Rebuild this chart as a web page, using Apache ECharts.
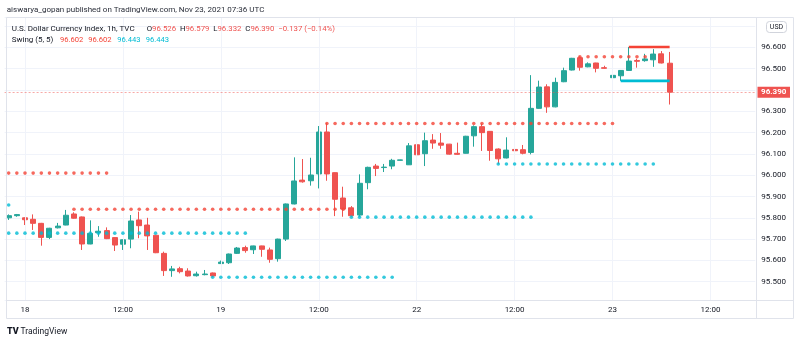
<!DOCTYPE html>
<html><head><meta charset="utf-8">
<script src="https://cdn.jsdelivr.net/npm/echarts@6/dist/echarts.min.js"></script>
<style>html,body{margin:0;padding:0;background:#fff;}#c{width:800px;height:343px;}</style>
</head><body><div id="c"></div>
<script>
// trading sessions (day, first hour, last hour) in UTC, hourly bars
const sessions = [['17',22,23],['18',0,23],['19',0,21],['21',22,23],['22',0,23],['23',0,17]];
const tickLabels = {'18 00:00':'18','18 12:00':'12:00','19 00:00':'19','19 12:00':'12:00','22 00:00':'22','22 12:00':'12:00','23 00:00':'23','23 12:00':'12:00'};

// OHLC from 17 22:00 to 23 07:00
const opens  = [95.800,95.810,95.800,95.793,95.774,95.708,95.753,95.766,95.818,95.804,95.677,95.730,95.740,95.707,95.676,95.700,95.790,95.766,95.718,95.633,95.552,95.561,95.550,95.528,95.533,95.541,
95.585,95.589,95.633,95.660,95.650,95.668,95.649,95.608,95.700,95.865,95.977,95.974,96.006,96.203,96.012,95.893,95.847,95.813,95.965,96.043,96.036,96.043,96.070,96.049,
96.143,96.101,96.165,96.151,96.146,96.103,96.103,96.185,96.228,96.206,96.123,96.081,96.121,96.120,96.107,96.314,96.415,96.321,96.439,96.494,96.552,96.509,96.527,96.505,
96.458,96.467,96.492,96.539,96.538,96.542,96.570,96.526];
const closes = [95.810,95.815,95.791,95.774,95.708,95.751,95.761,95.812,95.798,95.677,95.727,95.737,95.702,95.672,95.697,95.785,95.763,95.715,95.636,95.552,95.560,95.547,95.527,95.536,95.536,95.527,
95.592,95.630,95.658,95.646,95.668,95.652,95.605,95.700,95.865,95.973,95.969,96.001,96.203,96.006,95.887,95.841,95.810,95.962,96.037,96.032,96.038,96.070,96.072,96.138,
96.096,96.162,96.151,96.141,96.099,96.098,96.183,96.228,96.200,96.116,96.077,96.118,96.115,96.103,96.314,96.414,96.321,96.436,96.491,96.549,96.507,96.523,96.502,96.502,
96.469,96.492,96.536,96.535,96.546,96.569,96.527,96.390];
const lows   = [95.790,95.805,95.766,95.743,95.669,95.700,95.750,95.765,95.796,95.649,95.676,95.711,95.700,95.644,95.649,95.657,95.704,95.649,95.634,95.527,95.523,95.539,95.524,95.524,95.530,95.521,
95.583,95.583,95.630,95.636,95.630,95.617,95.589,95.594,95.691,95.863,95.965,95.951,95.938,95.974,95.808,95.805,95.805,95.805,95.934,95.996,96.015,96.028,96.069,96.048,
96.040,96.043,96.124,96.124,96.097,96.096,96.102,96.134,96.114,96.068,96.053,96.079,96.075,96.098,96.098,96.312,96.293,96.319,96.437,96.492,96.491,96.507,96.483,96.500,
96.456,96.443,96.490,96.505,96.533,96.509,96.525,96.332];
const highs  = [95.816,95.818,95.802,95.816,95.776,95.753,95.776,95.837,95.826,95.806,95.788,95.761,95.755,95.708,95.698,95.813,95.829,95.800,95.719,95.641,95.574,95.570,95.563,95.547,95.555,95.543,
95.599,95.632,95.663,95.669,95.669,95.669,95.660,95.702,95.867,96.084,96.076,96.082,96.231,96.244,96.013,95.946,95.855,96.004,96.040,96.053,96.053,96.077,96.073,96.151,
96.145,96.200,96.193,96.198,96.147,96.153,96.185,96.234,96.242,96.207,96.126,96.178,96.142,96.142,96.470,96.444,96.427,96.458,96.505,96.551,96.558,96.530,96.528,96.514,
96.480,96.494,96.602,96.547,96.570,96.592,96.583,96.579];

// Swing (5,5) levels
const swingHighDots = [
  {start:'17 22:00', end:'18 10:00', value:96.010},
  {start:'18 06:00', end:'19 15:00', value:95.840},
  {start:'19 13:00', end:'23 00:00', value:96.243},
  {start:'22 20:00', end:'23 04:00', value:96.556}
];
const swingLowDots = [
  {start:'17 22:00', end:'17 22:00', value:95.860},
  {start:'17 22:00', end:'19 03:00', value:95.728},
  {start:'18 23:00', end:'19 21:00', value:95.521},
  {start:'19 16:00', end:'22 14:00', value:95.803},
  {start:'22 10:00', end:'23 05:00', value:96.053}
];
const swingHighNow = {start:'23 02:00', end:'23 07:00', value:96.602};
const swingLowNow  = {start:'23 01:00', end:'23 07:00', value:96.443};

const UP='#26a69a', DOWN='#ef5350', RED='#f44336', CYAN='#00bcd4', TXT='#131722', BORDER='#e0e3eb', GRID='#f0f3fa';
const FONT='Roboto, "Noto Sans", sans-serif';

const categories = [];
sessions.forEach(([d,a,b]) => { for (let h=a; h<=b; h++) categories.push(d+' '+String(h).padStart(2,'0')+':00'); });
const candleData = opens.map((o,i)=>[o, closes[i], lows[i], highs[i]]);
function levelPoints(lv){
  const s=categories.indexOf(lv.start), e=categories.indexOf(lv.end), pts=[];
  for (let k=s;k<=e;k++) pts.push([categories[k], lv.value]);
  return pts;
}
const last = candleData.length-1;
const lastClose = closes[last];

const series = [
  {type:'line', data:[], z:1, silent:true,
   markLine:{symbol:'none', silent:true, label:{show:false}, animation:false,
     lineStyle:{color:GRID, type:'solid', width:1},
     data:Object.keys(tickLabels).map(c=>({xAxis:c}))}},
  {type:'candlestick', data:candleData, z:3, barWidth:5.5,
   itemStyle:{color:UP, color0:DOWN, borderColor:UP, borderColor0:DOWN, borderWidth:1},
   markLine:{symbol:'none', silent:true, animation:false, label:{show:false},
     lineStyle:{color:DOWN, type:[2,2], width:1, opacity:0.5},
     data:[{yAxis:lastClose}]}}
];
swingHighDots.forEach(lv=>series.push({type:'scatter', data:levelPoints(lv), symbolSize:3.6, z:5, silent:true, itemStyle:{color:RED}}));
swingLowDots.forEach(lv=>series.push({type:'scatter', data:levelPoints(lv), symbolSize:3.6, z:5, silent:true, itemStyle:{color:CYAN}}));
series.push({type:'line', data:levelPoints(swingHighNow), symbol:'none', z:6, silent:true, lineStyle:{color:RED, width:2.6}});
series.push({type:'line', data:levelPoints(swingLowNow), symbol:'none', z:6, silent:true, lineStyle:{color:CYAN, width:2.6}});

function txt(x,y,text,color,size,extra){
  return Object.assign({type:'text', x:x, y:y, silent:true, z:100,
    style:{text:text, fill:color, font:(size||8)+'px '+FONT, textVerticalAlign:'middle'}}, extra||{});
}
function hline(x1,x2,y){ return {type:'line', silent:true, z:50, shape:{x1:x1,y1:y,x2:x2,y2:y}, style:{stroke:BORDER, lineWidth:1}}; }
function vline(x,y1,y2){ return {type:'line', silent:true, z:50, shape:{x1:x,y1:y1,x2:x,y2:y2}, style:{stroke:BORDER, lineWidth:1}}; }

const chg = closes[last]-closes[last-1];
const ohlcText = [['O',opens[last]],['H',highs[last]],['L',lows[last]],['C',closes[last]]]
  .map(([k,v])=>'{k|'+k+'}{v|'+v.toFixed(3)+'}').join('{v|  }')
  + '{v|  \u2212'+Math.abs(chg).toFixed(3)+' (\u2212'+Math.abs(chg/closes[last-1]*100).toFixed(2)+'%)}';
const graphics = [
  txt(6.7,10,'aiswarya_gopan published on TradingView.com, Nov 23, 2021 07:36 UTC','#2a2e39',8),
  hline(6.5,793.5,17.5), hline(6.5,793.5,300.5), hline(6.5,793.5,318.5),
  vline(6.5,17.5,318.5), vline(793.5,17.5,318.5), vline(756.5,17.5,318.5),
  txt(11.7,29.3,'U.S. Dollar Currency Index, 1h, TVC',TXT,8),
  txt(11.7,40,'Swing (5, 5)',TXT,8),
  txt(60,40,swingHighNow.value.toFixed(3),RED,7.6),
  txt(88.3,40,swingHighNow.value.toFixed(3),RED,7.6),
  txt(117.3,40,swingLowNow.value.toFixed(3),CYAN,7.6),
  txt(145.7,40,swingLowNow.value.toFixed(3),CYAN,7.6),
  {type:'text', x:146.7, y:29.3, silent:true, z:100,
   style:{text:ohlcText, textVerticalAlign:'middle', fontSize:7.8, fontFamily:FONT,
     rich:{k:{fill:TXT, fontSize:7.8, fontFamily:FONT}, v:{fill:DOWN, fontSize:7.8, fontFamily:FONT}}}},
  {type:'rect', silent:true, z:60, shape:{x:766.5,y:21.5,width:20,height:11,r:3}, style:{fill:'#fff', stroke:'#d1d4dc', lineWidth:1}},
  txt(776.5,27.2,'USD',TXT,7,{style:{text:'USD', fill:TXT, font:'7px '+FONT, textAlign:'center', textVerticalAlign:'middle'}}),
  txt(7,332,'TV','#131722',9,{style:{text:'TV', fill:'#131722', font:'900 9px '+FONT, textVerticalAlign:'middle'}}),
  txt(20.5,332,'TradingView','#131722',8.5)
];

const option = {
  animation:false,
  backgroundColor:'#fff',
  textStyle:{fontFamily:FONT},
  grid:{left:4.6, right:44.7, top:17, bottom:43, containLabel:false},
  xAxis:{type:'category', data:categories, boundaryGap:true,
    axisLine:{show:false}, axisTick:{show:false},
    splitLine:{show:false},
    axisLabel:{interval:0, margin:6, color:TXT, fontSize:8, fontFamily:FONT,
      formatter:v=>tickLabels[v]||''}},
  yAxis:{type:'value', position:'right', scale:true, min:95.414, max:96.743, splitNumber:13, minInterval:0.1, maxInterval:0.1,
    axisLine:{show:false}, axisTick:{show:false},
    splitLine:{show:true, lineStyle:{color:GRID, width:1}},
    axisLabel:{showMinLabel:false, showMaxLabel:false, margin:6, color:TXT, fontSize:8, fontFamily:FONT,
      formatter:v=> (v>96.65 || Math.abs(v-lastClose)<0.04) ? '' : v.toFixed(3)}},
  series:series,
  graphic:graphics
};
const chart = echarts.init(document.getElementById('c'));
chart.setOption(option);
// last price label on the price scale, placed through the axis scale
const py = chart.convertToPixel({yAxisIndex:0}, lastClose);
chart.setOption({graphic: graphics.concat([
  {type:'rect', silent:true, z:110, shape:{x:757.5, y:py-5.5, width:32.5, height:11}, style:{fill:DOWN}},
  {type:'text', silent:true, z:111, x:773.7, y:py, style:{text:lastClose.toFixed(3), fill:'#fff', font:'bold 8px '+FONT, textAlign:'center', textVerticalAlign:'middle'}}
])});
</script></body></html>
